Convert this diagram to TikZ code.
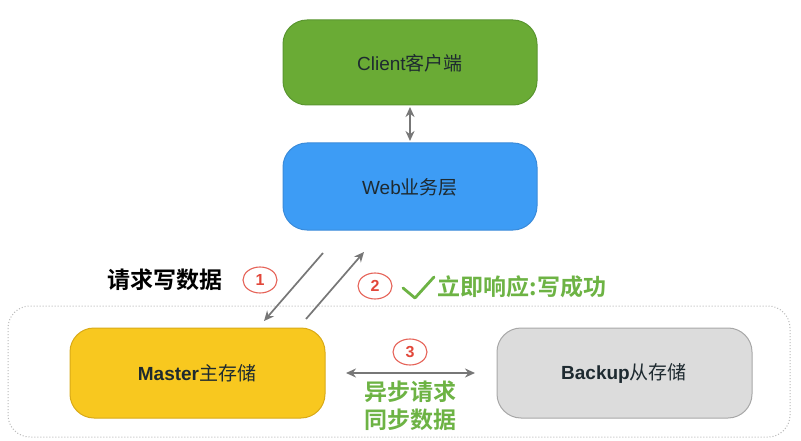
\documentclass[tikz,border=0pt]{standalone}
\usepackage{fontspec}
\setmainfont{Liberation Sans}
\newfontfamily\cjk{Noto Sans CJK SC}
\newfontfamily\cjkb{Noto Sans CJK SC Bold}
\usetikzlibrary{arrows.meta,shapes.geometric}
\definecolor{cgreen}{HTML}{6AAB35}
\definecolor{cgreenb}{HTML}{5A9630}
\definecolor{wblue}{HTML}{3D9CF5}
\definecolor{wblueb}{HTML}{3A8BDA}
\definecolor{myel}{HTML}{F8C81F}
\definecolor{myelb}{HTML}{D9AA18}
\definecolor{bgray}{HTML}{DCDCDC}
\definecolor{bgrayb}{HTML}{A8A8A8}
\definecolor{arr}{HTML}{777777}
\definecolor{lblgreen}{HTML}{6DB344}
\definecolor{cred}{HTML}{E2473A}
\definecolor{txtdark}{HTML}{1E2A30}
\tikzset{
  box/.style={rounded corners=24pt, line width=1pt, inner sep=0pt},
  conn/.style={draw=arr, line width=1.7pt, -{Stealth[length=10pt,width=9pt]}},
  dconn/.style={draw=arr, line width=1.7pt, {Stealth[length=10pt,width=9pt]}-{Stealth[length=10pt,width=9pt]}},
  numc/.style={ellipse, draw=cred!85, fill=white, line width=1.1pt, minimum width=34pt, minimum height=26pt, inner sep=0pt, text=cred, font=\bfseries\fontsize{16}{16}\selectfont},
  lbl/.style={font=\cjkb\fontsize{23}{26}\selectfont},
  boxtxt/.style={font=\fontsize{19}{19}\selectfont, text=txtdark},
}
\begin{document}
\begin{tikzpicture}[x=1pt,y=-1pt]
\useasboundingbox (0,0) rectangle (801,441);
\fill[white] (0,0) rectangle (801,441);
% container
\draw[gray!55, dotted, line width=1pt, rounded corners=22pt] (8,306) rectangle (790,437);
% boxes
\draw[box, fill=cgreen, draw=cgreenb] (283,20) rectangle (537,105);
\node[boxtxt] (client) at (410,63) {Client{\cjk 客户端}};
\coordinate (clientb) at (410,107);
\draw[box, fill=wblue, draw=wblueb] (283,143) rectangle (537,230);
\node[boxtxt] (web) at (410,187) {Web{\cjk 业务层}};
\coordinate (webt) at (410,141);
\draw[box, fill=myel, draw=myelb] (70,328) rectangle (325,418);
\node[boxtxt] (master) at (197,373) {\bfseries Master{\cjk\mdseries 主存储}};
\draw[box, fill=bgray, draw=bgrayb] (497,328) rectangle (752,418);
\node[boxtxt] (backup) at (624,373) {\bfseries Backup{\cjk\mdseries 从存储}};
% connectors
\path[dconn] (clientb) -- (webt);
\coordinate (a1s) at (323,253);
\coordinate (a1e) at (264,321);
\coordinate (a2s) at (306,319);
\coordinate (a2e) at (364,252);
\path[conn] (a1s) -- (a1e);
\path[conn] (a2s) -- (a2e);
\coordinate (a3l) at (346,373);
\coordinate (a3r) at (475,373);
\path[dconn] (a3l) -- (a3r);
% labels
\node[lbl, anchor=west] (req) at (104,280) {请求写数据};
\node[numc] (n1) at (260,280) {1};
\node[numc] (n2) at (375,286) {2};
\draw[lblgreen, line width=2.8pt, line cap=round, line join=round] (403,288) -- (415,298) -- (434,277);
\node[lbl, anchor=west, text=lblgreen] (resp) at (434,287) {立即响应:写成功};
\node[numc] (n3) at (410,352) {3};
\node[lbl, text=lblgreen] (async) at (410,392) {异步请求};
\node[lbl, text=lblgreen] (sync) at (410,420) {同步数据};
\end{tikzpicture}
\end{document}
